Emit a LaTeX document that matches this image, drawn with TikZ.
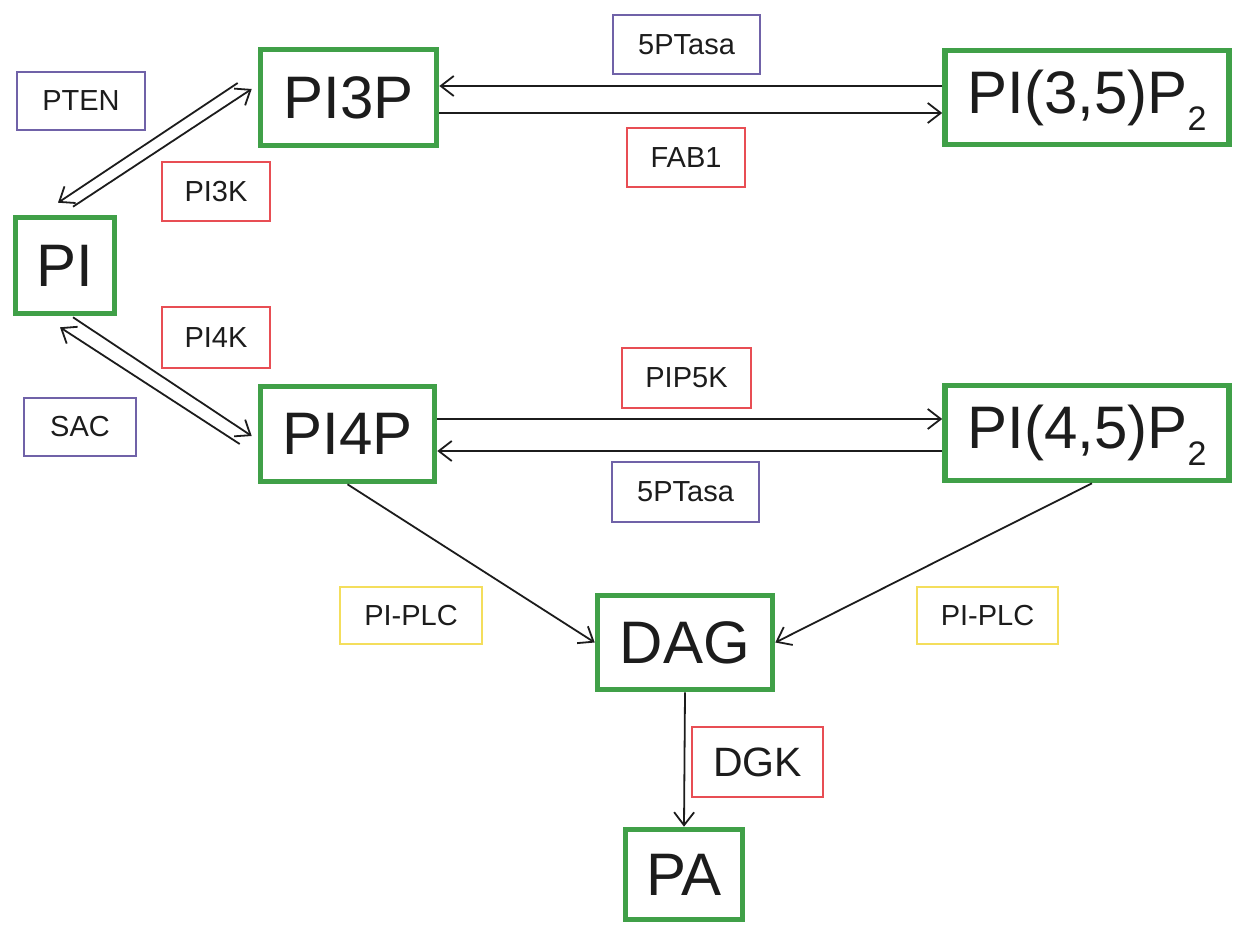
\documentclass[tikz,border=0pt]{standalone}
\usepackage{fontspec}
\setmainfont{Liberation Sans}
\usetikzlibrary{arrows.meta,calc}
\definecolor{boxgreen}{RGB}{64,160,72}
\definecolor{enzred}{RGB}{232,78,84}
\definecolor{enzpurple}{RGB}{112,98,168}
\definecolor{enzyellow}{RGB}{244,222,92}
\definecolor{ink}{RGB}{28,28,28}
\newcommand{\lowsub}[1]{\raisebox{-8.5pt}[0pt][0pt]{\fontsize{17}{17}\selectfont #1}}
\begin{document}
\begin{tikzpicture}[x=0.5pt,y=-0.5pt,
  lipid/.style={draw=boxgreen,line width=2.8pt,inner sep=0pt,text=ink,
    font=\fontsize{30}{32}\selectfont},
  enzyme/.style={draw=#1,line width=1pt,inner sep=0pt,text=ink,
    font=\fontsize{14.5}{16}\selectfont},
  conn/.style={draw=ink,line width=0.9pt,-{Straight Barb[length=6.5pt,width=10pt,line width=0.9pt]}}
]
\useasboundingbox (0,0) rectangle (1236,926);
% lipid boxes
\node[lipid,minimum width=88pt,minimum height=48pt] (PI3P) at (348.5,97.5) {PI3P};
\node[lipid,minimum width=49.5pt,minimum height=48pt] (PI) at (65,265.5) {PI};
\node[lipid,minimum width=87pt,minimum height=47.5pt] (PI4P) at (347.5,434) {PI4P};
\node[lipid,minimum width=142pt,minimum height=47pt] (PI35) at (1087,97.5) {PI(3,5)P\lowsub{2}};
\node[lipid,minimum width=142pt,minimum height=47.5pt] (PI45) at (1087,433) {PI(4,5)P\lowsub{2}};
\node[lipid,minimum width=87.5pt,minimum height=47pt] (DAG) at (685,642.5) {DAG};
\node[lipid,minimum width=58.5pt,minimum height=45pt] (PA) at (684,874.5) {PA};
% enzyme boxes
\node[enzyme=enzpurple,minimum width=64pt,minimum height=29pt] (PTEN) at (81,101) {PTEN};
\node[enzyme=enzred,minimum width=54pt,minimum height=29.5pt] (PI3K) at (216,191.5) {PI3K};
\node[enzyme=enzred,minimum width=54pt,minimum height=30.5pt] (PI4K) at (216,337.5) {PI4K};
\node[enzyme=enzpurple,minimum width=56pt,minimum height=29pt] (SAC) at (80,427) {SAC};
\node[enzyme=enzpurple,minimum width=73.5pt,minimum height=29.5pt] (PTasaT) at (686.5,44.5) {5PTasa};
\node[enzyme=enzred,minimum width=59pt,minimum height=29.5pt] (FAB1) at (686,157.5) {FAB1};
\node[enzyme=enzred,minimum width=64.5pt,minimum height=30pt] (PIP5K) at (686.5,378) {PIP5K};
\node[enzyme=enzpurple,minimum width=73.5pt,minimum height=30pt] (PTasaB) at (685.5,492) {5PTasa};
\node[enzyme=enzyellow,minimum width=71pt,minimum height=28.5pt] (PLCL) at (411,615.5) {PI-PLC};
\node[enzyme=enzyellow,minimum width=70.5pt,minimum height=28.5pt] (PLCR) at (987.5,615.5) {PI-PLC};
\node[enzyme=enzred,minimum width=65.5pt,minimum height=35pt,font=\fontsize{20.5}{22}\selectfont] (DGK) at (757.5,762) {DGK};
% PI <-> PI3P
\draw[conn] ($(PI3P.west)+(-20,-14.5)$) -- ($(PI.north)+(-7,-12)$);
\draw[conn] ($(PI.north)+(8,-8)$) -- ($(PI3P.west)+(-6,-8.5)$);
% PI <-> PI4P
\draw[conn] ($(PI4P.west)+(-18,10)$) -- ($(PI.south)+(-5,11)$);
\draw[conn] ($(PI.south)+(8,1)$) -- ($(PI4P.west)+(-6,2)$);
% PI3P <-> PI(3,5)P2
\draw[conn] ($(PI35.west)+(0,-11.5)$) -- ($(PI3P.east)+(0,-11.5)$);
\draw[conn] ($(PI3P.east)+(0,15.5)$) -- ($(PI35.west)+(0,15.5)$);
% PI4P <-> PI(4,5)P2
\draw[conn] ($(PI4P.east)+(0,-15)$) -- ($(PI45.west)+(0,-14)$);
\draw[conn] ($(PI45.west)+(0,18)$) -- ($(PI4P.east)+(0,17)$);
% to DAG
\draw[conn] (PI4P.south) -- (DAG.west);
\draw[conn] ($(PI45.south)+(5,0)$) -- (DAG.east);
% DAG -> PA
\draw[conn] (DAG.south) -- (PA.north);
\end{tikzpicture}
\end{document}
